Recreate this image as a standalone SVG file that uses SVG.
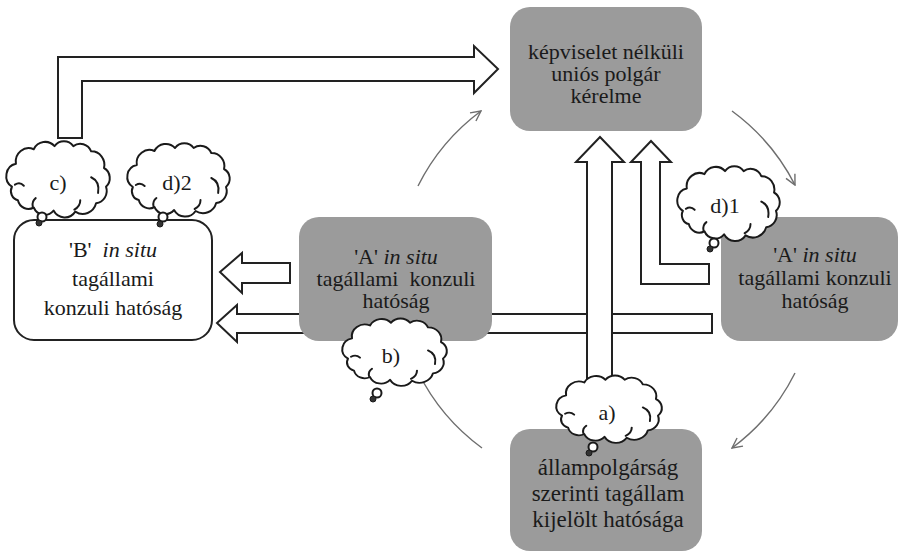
<svg xmlns="http://www.w3.org/2000/svg" width="905" height="551" viewBox="0 0 905 551">
  <style>
    .box { fill: #9b9b9b; stroke: none; }
    .wbox { fill: #ffffff; stroke: #222222; stroke-width: 2; }
    .blk { fill: #ffffff; stroke: #222222; stroke-width: 2; stroke-linejoin: miter; }
    .thin { fill: none; stroke: #6e6e6e; stroke-width: 1.4; }
    .lbl { font-family: "Liberation Serif", "Times New Roman", serif; font-size: 22px; fill: #1a1a1a; text-anchor: middle; }
    .big { font-size: 23px; }
    .cl { fill: #ffffff; stroke: #1a1a1a; stroke-width: 2; stroke-linejoin: round; }
    .curl { fill: none; stroke: #1a1a1a; stroke-width: 2; stroke-linecap: round; }
    .dot { fill: #333333; stroke: #1a1a1a; stroke-width: 1; }
  </style>
  <defs>
    <marker id="open" viewBox="0 0 12 12" refX="11" refY="6" markerWidth="12" markerHeight="12" markerUnits="userSpaceOnUse" orient="auto">
      <path d="M1,1 L11,6 L1,11" fill="none" stroke="#6e6e6e" stroke-width="1.4"/>
    </marker>
    <!-- scalloped thought cloud, 104 x 68 -->
    <g id="cloud">
      <path class="cl" d="M5,42 A12,12 0 0 1 9,20 A13,13 0 0 1 27,6 A13,13 0 0 1 48,3 A12,12 0 0 1 67,3 A12,12 0 0 1 85,8 A13,13 0 0 1 98,24 A11,11 0 0 1 100,42 A12,12 0 0 1 90,58 A14,14 0 0 1 69,66 A13,13 0 0 1 47,65 A12,12 0 0 1 27,62 A11,11 0 0 1 11,55 A9,9 0 0 1 5,42 Z"/>
      <path class="curl" d="M8,40 Q13,37 17,41"/>
      <path class="curl" d="M85,33 Q94,37 92,48"/>
      <path class="curl" d="M68,64 Q74,61 74,55"/>
      <path class="curl" d="M26,61 Q25,56 29,53"/>
    </g>
  </defs>

  <!-- block arrows -->
  <g id="connectors">
    <!-- long horizontal arrow from right A authority to B authority -->
    <polygon class="blk" points="217,323 237,305 237,314 712,314 712,333 237,333 237,342"/>
    <!-- short arrow from middle A authority to B authority -->
    <polygon class="blk" points="220,272 242,253 242,263 290,263 290,283 242,283 242,293"/>
    <!-- L arrow from c) up to the request -->
    <polygon class="blk" points="58,138 58,57 474,57 474,46 498,69 474,93 474,81 82,81 82,138"/>
    <!-- L arrow from right A authority up to the request -->
    <polygon class="blk" points="641,284 641,162 631,162 651,141 671,162 660,162 660,264 709,264 709,284"/>
    <!-- vertical arrow from the home-state authority up to the request -->
    <polygon class="blk" points="587,400 587,162 576,162 600,137 624,162 612,162 612,400"/>

    <!-- circular flow -->
    <path class="thin" d="M418,186 A210,210 0 0 1 481,111" marker-end="url(#open)"/>
    <path class="thin" d="M732,111 A210,210 0 0 1 795,185" marker-end="url(#open)"/>
    <path class="thin" d="M795,373 A210,210 0 0 1 732,448" marker-end="url(#open)"/>
    <path class="thin" d="M482,448 A210,210 0 0 1 418,372" marker-end="url(#open)"/>
  </g>

  <!-- nodes -->
  <g id="request">
    <rect class="box" x="510" y="7" width="192" height="124" rx="20"/>
    <text class="lbl"><tspan x="606" y="59">képviselet nélküli</tspan><tspan x="606" y="81">uniós polgár</tspan><tspan x="606" y="103">kérelme</tspan></text>
  </g>

  <g id="a-mid">
    <rect class="box" x="299" y="217" width="193" height="124" rx="20"/>
    <text class="lbl" xml:space="preserve"><tspan x="396" y="264">'A' <tspan font-style="italic">in situ</tspan></tspan><tspan x="396" y="286">tagállami  konzuli</tspan><tspan x="396" y="308">hatóság</tspan></text>
  </g>

  <g id="a-right">
    <rect class="box" x="721" y="217" width="177" height="124" rx="20"/>
    <text class="lbl"><tspan x="815" y="262">'A' <tspan font-style="italic">in situ</tspan></tspan><tspan x="815" y="285">tagállami konzuli</tspan><tspan x="815" y="308">hatóság</tspan></text>
  </g>

  <g id="home-state">
    <rect class="box" x="510" y="429" width="192" height="122" rx="20"/>
    <text class="lbl big"><tspan x="608" y="475">állampolgárság</tspan><tspan x="608" y="501">szerinti tagállam</tspan><tspan x="608" y="527">kijelölt hatósága</tspan></text>
  </g>

  <g id="b-authority">
    <rect class="wbox" x="14" y="220" width="198" height="120" rx="20"/>
    <text class="lbl" xml:space="preserve"><tspan x="113" y="257">'B'  <tspan font-style="italic">in situ</tspan></tspan><tspan x="113" y="286">tagállami</tspan><tspan x="113" y="315">konzuli hatóság</tspan></text>
  </g>

  <!-- thought clouds -->
  <g id="cloud-c">
    <use href="#cloud" transform="translate(7,143) scale(0.99,1.04)"/>
    <circle class="cl" cx="42" cy="217" r="4.5"/>
    <circle class="dot" cx="39" cy="223" r="3"/>
    <text class="lbl" x="58" y="190">c)</text>
  </g>
  <g id="cloud-d2">
    <use href="#cloud" transform="translate(128,145) scale(0.98,1)"/>
    <circle class="cl" cx="163" cy="217" r="4.5"/>
    <circle class="dot" cx="160" cy="224" r="3"/>
    <text class="lbl" x="177" y="190">d)2</text>
  </g>
  <g id="cloud-b">
    <use href="#cloud" transform="translate(343,320) scale(1,0.92)"/>
    <circle class="cl" cx="377" cy="393" r="4.5"/>
    <circle class="dot" cx="373" cy="399" r="3"/>
    <text class="lbl" x="391" y="363">b)</text>
  </g>
  <g id="cloud-a">
    <use href="#cloud" transform="translate(557,377) scale(1.01,0.92)"/>
    <circle class="cl" cx="593" cy="447" r="4.5"/>
    <circle class="dot" cx="589" cy="453" r="3"/>
    <text class="lbl" x="607" y="420">a)</text>
  </g>
  <g id="cloud-d1">
    <use href="#cloud" transform="translate(678,168) scale(0.98,1.02)"/>
    <circle class="cl" cx="714" cy="243" r="4.5"/>
    <circle class="dot" cx="710" cy="249" r="3"/>
    <text class="lbl" x="725" y="213">d)1</text>
  </g>
</svg>
